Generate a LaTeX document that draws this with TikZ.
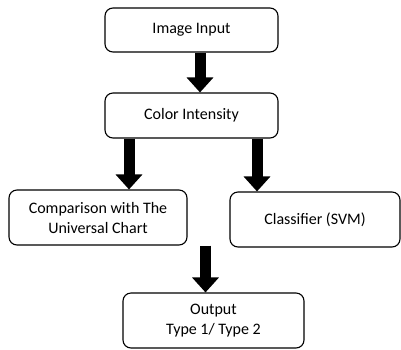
\documentclass[tikz,border=0pt]{standalone}
\usepackage{fontspec}
\setmainfont{Carlito}
\usetikzlibrary{arrows.meta}
\tikzset{
  box/.style = {draw, rounded corners = 8pt, line width = 1.1pt, align = center, inner sep = 0pt,
                font = \fontsize{16}{20}\selectfont},
  flow/.style = {line width = 11pt, -{Triangle[width = 26pt, length = 15pt]}}
}
\begin{document}
\begin{tikzpicture}[x = 1pt, y = -1pt]
            \useasboundingbox (0, 0) rectangle (401, 349);
            \node [box, minimum width = 173pt, minimum height = 44pt] (input) at (191.5, 30) {Image Input};
            \node [box, minimum width = 173pt, minimum height = 45pt] (color) at (191.5, 115.5) {Color Intensity};
            \node [box, minimum width = 178pt, minimum height = 55pt] (compare) at (98, 217.5) {Comparison with The\\Universal Chart};
            \node [box, minimum width = 170pt, minimum height = 55pt] (svm) at (315, 219.5) {Classifier (SVM)};
            \node [box, minimum width = 181pt, minimum height = 55pt] (output) at (213.5, 320.5) {Output\\Type 1/ Type 2};
            
            \draw [flow] ([xshift = 8.5pt]input.south) -- ([xshift = 8.5pt]color.north);
            \draw [flow] ([xshift = -62.5pt]color.south) -- ([xshift = 31pt]compare.north);
            \draw [flow] ([xshift = 65.5pt]color.south) -- ([xshift = -58pt]svm.north);
            \draw [flow] ([xshift = 107.5pt]compare.south) -- ([xshift = -8pt]output.north);
        \end{tikzpicture}
\end{document}
